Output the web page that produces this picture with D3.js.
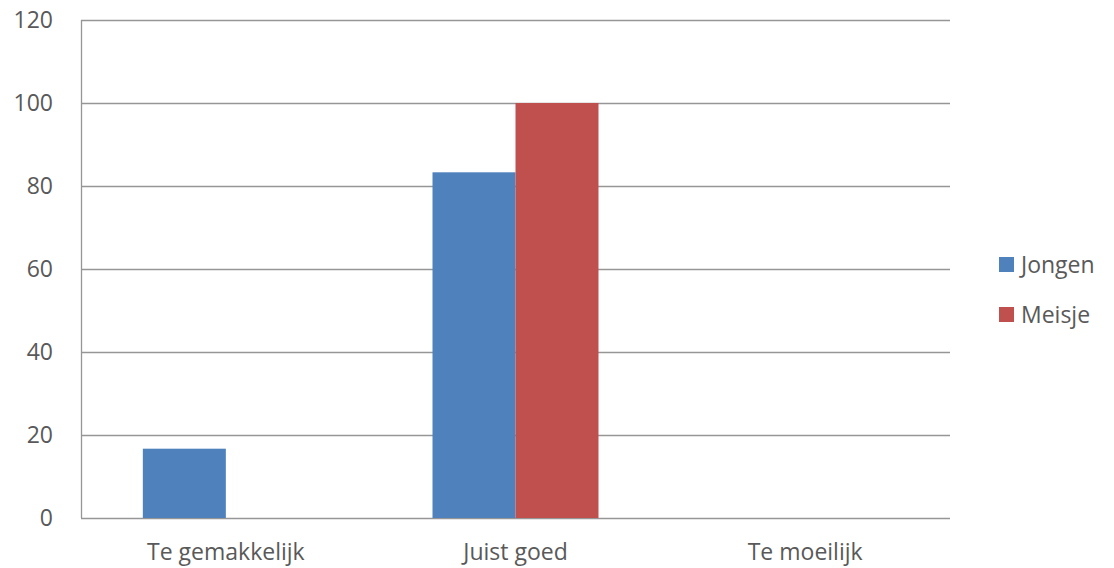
<!DOCTYPE html>
<html>
<head>
<meta charset="utf-8">
<script src="https://cdn.jsdelivr.net/npm/d3@7"></script>
<style>
  html, body { margin: 0; padding: 0; background: #fff; overflow: hidden; }
  svg { display: block; }
  text { font-family: "Open Sans", sans-serif; fill: #595959; }
</style>
</head>
<body>
<div id="chart"></div>
<script>
const categories = ["Te gemakkelijk", "Juist goed", "Te moeilijk"];
const seriesNames = ["Jongen", "Meisje"];
const jongen = [16.7, 83.3, 0];
const meisje = [0, 100, 0];
const yTicks = [0, 20, 40, 60, 80, 100, 120];
const colors = ["#4F81BD", "#C0504D"];

const width = 1114;
const height = 568;
const margin = {top: 20, right: 164, bottom: 50, left: 81};
const innerWidth = width - margin.left - margin.right;
const innerHeight = height - margin.top - margin.bottom;

const svg = d3.select("#chart")
    .append("svg")
    .attr("width", width)
    .attr("height", height);

const innerChart = svg.append("g")
    .attr("transform", `translate(${margin.left}, ${margin.top})`);

const xScale = d3.scaleBand()
    .domain(categories)
    .range([0, innerWidth]);

const xInner = d3.scaleBand()
    .domain(seriesNames)
    .range([0, xScale.bandwidth()])
    .paddingOuter(0.745);

const yScale = d3.scaleLinear()
    .domain([0, 120])
    .range([innerHeight, 0]);

// gridlines
innerChart.selectAll(".grid")
    .data(yTicks)
    .enter()
    .append("line")
    .attr("x1", 0)
    .attr("x2", innerWidth)
    .attr("y1", d => yScale(d) + 0.5)
    .attr("y2", d => yScale(d) + 0.5)
    .attr("stroke", "#969696")
    .attr("stroke-width", 1.3);

// left axis line
innerChart.append("line")
    .attr("x1", 0.5).attr("x2", 0.5)
    .attr("y1", 0).attr("y2", innerHeight)
    .attr("stroke", "#969696")
    .attr("stroke-width", 1.3);

const rows = categories.map((c, i) => ({cat: c, values: [jongen[i], meisje[i]]}));

const groups = innerChart.selectAll(".group")
    .data(rows)
    .enter()
    .append("g")
    .attr("transform", d => `translate(${xScale(d.cat)}, 0)`);

groups.selectAll("rect")
    .data(d => d.values.map((v, j) => ({name: seriesNames[j], value: v, j})))
    .enter()
    .append("rect")
    .filter(d => d.value > 0)
    .attr("x", d => xInner(d.name))
    .attr("width", xInner.bandwidth())
    .attr("y", d => yScale(d.value))
    .attr("height", d => innerHeight - yScale(d.value))
    .attr("fill", d => colors[d.j]);

// y labels
innerChart.selectAll(".ylab")
    .data(yTicks)
    .enter()
    .append("text")
    .attr("x", -28)
    .attr("y", d => yScale(d) + 8)
    .attr("text-anchor", "end")
    .style("font-size", "23px")
    .text(d => d);

// x labels
innerChart.selectAll(".xlab")
    .data(categories)
    .enter()
    .append("text")
    .attr("x", d => xScale(d) + xScale.bandwidth() / 2)
    .attr("y", innerHeight + 42)
    .attr("text-anchor", "middle")
    .style("font-size", "23px")
    .text(d => d);

// legend
const legend = svg.append("g")
    .attr("transform", "translate(999, 257)");

const items = legend.selectAll(".item")
    .data(seriesNames)
    .enter()
    .append("g")
    .attr("transform", (d, i) => `translate(0, ${i * 50})`);

items.append("rect")
    .attr("width", 15)
    .attr("height", 15)
    .attr("fill", (d, i) => colors[i]);

items.append("text")
    .attr("x", 22)
    .attr("y", 16)
    .style("font-size", "23px")
    .text(d => d);
</script>
</body>
</html>
